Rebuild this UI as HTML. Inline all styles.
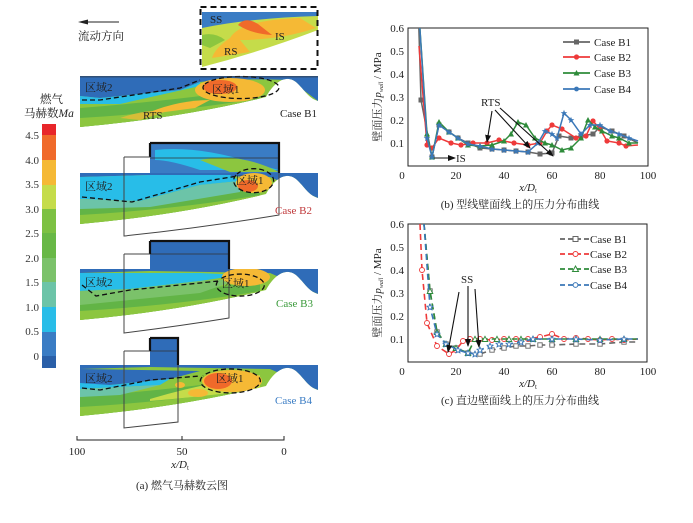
<!DOCTYPE html>
<html><head><meta charset="utf-8"><style>
body{margin:0;background:#fff;}
svg{display:block;font-family:"Liberation Serif","Noto Serif CJK SC",serif;}
</style></head><body>
<svg width="693" height="523" viewBox="0 0 693 523" xmlns="http://www.w3.org/2000/svg">
<defs>
<clipPath id="nz"><path d="M80,76 L318,76 L318,101 C308,98 305,90 296,82 C286,74 274,82 266,97 Q180,118 80,127 Z"/></clipPath>
<marker id="sq" markerWidth="6" markerHeight="6" refX="3" refY="3" markerUnits="userSpaceOnUse"><rect x="0.5" y="0.5" width="5" height="5" fill="#666"/></marker>
<marker id="ci" markerWidth="6" markerHeight="6" refX="3" refY="3" markerUnits="userSpaceOnUse"><circle cx="3" cy="3" r="2.6" fill="#ee3a3a"/></marker>
<marker id="tr" markerWidth="7" markerHeight="7" refX="3.5" refY="3.5" markerUnits="userSpaceOnUse"><path d="M3.5,0.5 L6.5,6 L0.5,6Z" fill="#2e8b3a"/></marker>
<marker id="st" markerWidth="7" markerHeight="7" refX="3.5" refY="3.5" markerUnits="userSpaceOnUse"><path d="M3.5,0.3 L4.4,2.6 L6.8,2.7 L4.9,4.2 L5.6,6.6 L3.5,5.2 L1.4,6.6 L2.1,4.2 L0.2,2.7 L2.6,2.6Z" fill="#3b78b8"/></marker>
<marker id="sqo" markerWidth="6" markerHeight="6" refX="3" refY="3" markerUnits="userSpaceOnUse"><rect x="0.8" y="0.8" width="4.4" height="4.4" fill="#fff" stroke="#666" stroke-width="0.9"/></marker>
<marker id="cio" markerWidth="7" markerHeight="7" refX="3.5" refY="3.5" markerUnits="userSpaceOnUse"><circle cx="3.5" cy="3.5" r="2.5" fill="#fff" stroke="#ee3a3a" stroke-width="0.9"/></marker>
<marker id="tro" markerWidth="7" markerHeight="7" refX="3.5" refY="3.5" markerUnits="userSpaceOnUse"><path d="M3.5,0.8 L6.3,6 L0.7,6Z" fill="#fff" stroke="#2e8b3a" stroke-width="0.9"/></marker>
<marker id="sto" markerWidth="7" markerHeight="7" refX="3.5" refY="3.5" markerUnits="userSpaceOnUse"><path d="M3.5,0.5 L4.4,2.6 L6.6,2.7 L4.9,4.2 L5.5,6.4 L3.5,5.2 L1.5,6.4 L2.1,4.2 L0.4,2.7 L2.6,2.6Z" fill="#fff" stroke="#3b78b8" stroke-width="0.9"/></marker>
<marker id="ah" markerWidth="8" markerHeight="8" refX="7" refY="4" orient="auto" markerUnits="userSpaceOnUse"><path d="M0,1 L8,4 L0,7Z" fill="#111"/></marker>
<g id="geo">
<g clip-path="url(#nz)">
<rect x="80" y="70" width="240" height="60" fill="#8cc63f"/>
<path d="M80,108 Q180,100 260,88 L260,130 L80,130Z" fill="#62b446"/>
<path d="M80,118 Q180,112 260,98 L260,130 L80,130Z" fill="#8cc63f"/>
</g>
</g>
</defs>

<!-- flow direction -->
<line x1="80" y1="22" x2="119" y2="22" stroke="#222" stroke-width="1"/>
<path d="M78,22 L88,19.5 L88,24.5Z" fill="#222"/>
<text x="78" y="40" font-size="11.5" fill="#222">流动方向</text>

<!-- colorbar -->
<text x="40" y="103" font-size="11.5" fill="#222">燃气</text>
<text x="24" y="117" font-size="11.5" fill="#222">马赫数<tspan font-style="italic">Ma</tspan></text>
<rect x="42" y="124" width="14" height="11" fill="#e8262a"/>
<rect x="42" y="135" width="14" height="25" fill="#f06a2a"/>
<rect x="42" y="160" width="14" height="25" fill="#f5b935"/>
<rect x="42" y="185" width="14" height="24" fill="#c5dc4a"/>
<rect x="42" y="209" width="14" height="24" fill="#7dc143"/>
<rect x="42" y="233" width="14" height="25" fill="#68b846"/>
<rect x="42" y="258" width="14" height="24" fill="#7bc26a"/>
<rect x="42" y="282" width="14" height="25" fill="#6cc4a8"/>
<rect x="42" y="307" width="14" height="25" fill="#28bde8"/>
<rect x="42" y="332" width="14" height="24" fill="#3a7cc4"/>
<rect x="42" y="356" width="14" height="12" fill="#2a5fa8"/>
<g font-size="11" fill="#333" text-anchor="end">
<text x="39" y="139">4.5</text><text x="39" y="164">4.0</text><text x="39" y="188">3.5</text><text x="39" y="213">3.0</text><text x="39" y="237">2.5</text><text x="39" y="262">2.0</text><text x="39" y="286">1.5</text><text x="39" y="311">1.0</text><text x="39" y="335">0.5</text><text x="39" y="360">0</text>
</g>

<!-- inset -->
<path d="M202,12 L318,12 L318,30 Q260,52 202,67Z" fill="#c5dc4a"/>
<path d="M202,12 L318,12 L318,16 Q250,18 202,28Z" fill="#3a7cc4"/>
<path d="M230,38 Q240,20 300,18 L316,28 Q280,40 240,40 L250,52 L212,58 Q215,48 230,38Z" fill="#f5b935"/>
<path d="M238,25 Q245,16 258,24 L272,35 Q252,34 238,25Z" fill="#f06a2a"/>
<path d="M202,35 Q215,32 225,40 L210,48 L202,45Z" fill="#8cc63f"/>
<rect x="200.5" y="7" width="117" height="62" fill="none" stroke="#111" stroke-width="2" stroke-dasharray="6,4"/>
<g font-size="11" fill="#222"><text x="210" y="23">SS</text><text x="275" y="40">IS</text><text x="224" y="55">RS</text></g>

<!-- B1 -->
<use href="#geo"/>
<g clip-path="url(#nz)">
<path d="M80,76 L318,76 L318,101 L290,80 Q230,78 200,82 L180,90 L100,98 L80,96Z" fill="#2f6cb8"/>
<path d="M80,96 L100,98 L180,90 L200,82 L200,86 L120,104 L80,104Z" fill="#28bde8"/>
<ellipse cx="230" cy="90" rx="35" ry="12" fill="#f5b935"/>
<ellipse cx="220" cy="87" rx="17" ry="7" fill="#f06a2a"/>
<path d="M150,112 Q180,100 210,100 L195,108 L165,112Z" fill="#f5b935"/>
<path d="M120,118 Q150,108 165,112 L140,120Z" fill="#f5b935" opacity=".7"/>
</g>
<path d="M82,100 L100,100 L180,88 L200,80 M204,85 A38,11 0 1 0 205,84" fill="none" stroke="#111" stroke-width="1.3" stroke-dasharray="5,3"/>
<rect x="80" y="76" width="238" height="1.5" fill="#333" opacity=".5"/>
<g font-size="11" fill="#222"><text x="85" y="91">区域2</text><text x="212" y="93">区域1</text><text x="143" y="119">RTS</text><text x="280" y="117">Case B1</text></g>

<!-- B2 -->
<g transform="translate(0,97)"><use href="#geo"/>
<g clip-path="url(#nz)">
<path d="M80,76 L318,76 L318,101 L270,80 L150,78 L80,80Z" fill="#2f6cb8"/>
<path d="M80,80 L150,78 L230,78 L240,84 L200,88 L140,104 L80,102Z" fill="#28bde8"/>
<path d="M80,102 L140,104 L200,88 L240,84 L240,95 L150,110 L80,112Z" fill="#6cc4a8"/>
<ellipse cx="254" cy="86" rx="18" ry="10" fill="#f5b935"/>
<ellipse cx="248" cy="89" rx="10" ry="6" fill="#f06a2a"/>
</g></g>
<path d="M150,143 L279,143 L279,173 L150,173Z" fill="#3a7cc4"/>
<path d="M155,150 Q200,145 260,165 L279,170 L200,170 Q170,160 155,160Z" fill="#28bde8"/>
<path d="M200,160 Q240,152 279,172 L230,172Z" fill="#8cc63f"/>
<line x1="150" y1="158" x2="279" y2="158" stroke="#333" stroke-width="0.8"/>
<path d="M150,143 L279,143 L279,173 M150,143 L150,157" fill="none" stroke="#111" stroke-width="2.2"/>
<path d="M124,157 L150,157 M124,157 L124,236 Q200,228 279,215 L279,173" fill="none" stroke="#444" stroke-width="1"/>
<path d="M82,197 L132,202 L200,182 L238,176 M236,175 A20,12 0 1 0 237,174" fill="none" stroke="#111" stroke-width="1.3" stroke-dasharray="5,3"/>
<g font-size="11" fill="#222"><text x="85" y="190">区域2</text><text x="236" y="184">区域1</text></g>
<text x="275" y="214" font-size="11" fill="#c0393b">Case B2</text>

<!-- B3 -->
<g transform="translate(0,193)"><use href="#geo"/>
<g clip-path="url(#nz)">
<path d="M80,76 L318,76 L318,101 L270,80 L150,78 L80,80Z" fill="#2f6cb8"/>
<path d="M80,80 L200,80 L240,82 L200,88 L130,96 L80,98Z" fill="#28bde8"/>
<path d="M80,98 L130,96 L200,88 L240,86 L200,100 L80,112Z" fill="#7bc26a"/>
<ellipse cx="246" cy="84" rx="24" ry="9" fill="#f5b935"/>
</g></g>
<path d="M150,241 L229,241 L229,269 L150,269Z" fill="#2f6cb8"/>
<line x1="150" y1="254" x2="229" y2="254" stroke="#333" stroke-width="0.8"/>
<path d="M150,241 L229,241 L229,269 M150,241 L150,254" fill="none" stroke="#111" stroke-width="2.2"/>
<path d="M124,254 L150,254 M124,254 L124,333 Q180,326 229,318 L229,269" fill="none" stroke="#444" stroke-width="1"/>
<path d="M82,285 L96,296 L130,290 L200,283 L218,281 M218,281 A24,11 0 1 0 219,280" fill="none" stroke="#111" stroke-width="1.3" stroke-dasharray="5,3"/>
<g font-size="11" fill="#222"><text x="85" y="286">区域2</text><text x="222" y="287">区域1</text></g>
<text x="276" y="307" font-size="11" fill="#3a9a3a">Case B3</text>

<!-- B4 -->
<g transform="translate(0,289)"><use href="#geo"/>
<g clip-path="url(#nz)">
<path d="M80,76 L318,76 L318,101 L270,80 L150,78 L80,80Z" fill="#2f6cb8"/>
<path d="M80,80 L200,82 L170,90 L110,96 L80,96Z" fill="#2f6cb8"/>
<path d="M80,94 L110,96 L170,90 L160,96 L80,100Z" fill="#28bde8"/>
<path d="M80,100 L160,96 L120,106 L80,108Z" fill="#6cc4a8"/>
<path d="M150,110 Q200,95 260,86 L260,100 Q200,108 150,112Z" fill="#c5dc4a"/>
<ellipse cx="232" cy="92" rx="30" ry="11" fill="#f5b935"/>
<ellipse cx="218" cy="92" rx="14" ry="8" fill="#f06a2a"/>
<ellipse cx="198" cy="104" rx="10" ry="4" fill="#f5b935"/>
<ellipse cx="180" cy="96" rx="5" ry="3" fill="#f5b935"/>
</g></g>
<path d="M150,338 L178,338 L178,365 L150,365Z" fill="#2f6cb8"/>
<line x1="150" y1="351" x2="178" y2="351" stroke="#333" stroke-width="0.8"/>
<path d="M150,338 L178,338 L178,365 M150,338 L150,351" fill="none" stroke="#111" stroke-width="2.2"/>
<path d="M124,351 L150,351 M124,351 L124,428 Q150,425 178,422 L178,365" fill="none" stroke="#444" stroke-width="1"/>
<path d="M82,388 L100,390 L150,380 L200,376 M202,377 A30,12 0 1 0 203,376" fill="none" stroke="#111" stroke-width="1.3" stroke-dasharray="5,3"/>
<g font-size="11" fill="#222"><text x="85" y="382">区域2</text><text x="216" y="382">区域1</text></g>
<text x="275" y="404" font-size="11" fill="#3a7cc4">Case B4</text>

<!-- bottom axis a -->
<path d="M77,436 L77,440 L284,440 L284,436 M182,436 L182,440" fill="none" stroke="#222" stroke-width="1"/>
<g font-size="11" fill="#222" text-anchor="middle"><text x="77" y="455">100</text><text x="182" y="455">50</text><text x="284" y="455">0</text>
<text x="180" y="468" font-style="italic">x/D<tspan font-size="7" dy="2" font-style="normal">t</tspan></text>
<text x="182" y="489" font-size="11">(a) 燃气马赫数云图</text></g>

<!-- plot b -->
<g font-size="11" fill="#222">
<rect x="408" y="28" width="240" height="138" fill="none" stroke="#222" stroke-width="1"/>
<g text-anchor="end"><text x="404" y="32">0.6</text><text x="404" y="55">0.5</text><text x="404" y="78">0.4</text><text x="404" y="101">0.3</text><text x="404" y="124">0.2</text><text x="404" y="147">0.1</text></g>
<g text-anchor="middle"><text x="402" y="179">0</text><text x="456" y="179">20</text><text x="504" y="179">40</text><text x="552" y="179">60</text><text x="600" y="179">80</text><text x="648" y="179">100</text>
<text x="528" y="191" font-style="italic">x/D<tspan font-size="7" dy="2" font-style="normal">t</tspan></text>
<text x="520" y="208">(b) 型线壁面线上的压力分布曲线</text></g>
<text transform="translate(381,97) rotate(-90)" text-anchor="middle" font-size="11">壁面压力<tspan font-style="italic">p</tspan><tspan font-size="6" dy="2" font-style="italic">wall</tspan><tspan dy="-2"> / MPa</tspan></text>
</g>
<svg x="408" y="28" width="240" height="138" viewBox="408 28 240 138" overflow="hidden">
<polyline fill="none" stroke="#666" stroke-width="1.5" marker-mid="url(#sq)" points="418,0 421,100 432,157 439,125 449,132 458,138 468,143 480,148 492,149 504,150 516,151 528,152 540,154 552,153 559,136 571,138 581,136 593,134 600,127 612,131 624,136 638,143"/>
<polyline fill="none" stroke="#ee3a3a" stroke-width="1.5" marker-mid="url(#ci)" points="419,46 427,145 432,148 439,138 451,143 461,145 473,143 487,143 499,140 514,143 528,145 540,143 547,131 552,125 562,129 576,138 586,136 593,121 600,129 607,141 619,143 626,146 638,145"/>
<polyline fill="none" stroke="#2e8b3a" stroke-width="1.5" marker-mid="url(#tr)" points="418,0 427,134 432,157 439,122 449,132 458,138 468,145 480,146 492,145 504,141 511,134 518,122 526,125 535,138 545,143 552,145 562,150 571,148 581,138 588,120 595,127 602,131 612,136 619,138 629,143 638,143"/>
<polyline fill="none" stroke="#3b78b8" stroke-width="1.5" marker-mid="url(#st)" points="418,0 427,138 432,157 439,125 449,132 458,138 468,144 480,146 492,149 504,150 516,151 528,152 538,143 545,131 552,134 557,138 564,113 571,120 581,134 590,125 600,125 610,131 619,134 629,138 638,141"/>
</svg>
<g stroke-width="1.8"><line x1="563" y1="42" x2="590" y2="42" stroke="#666" marker-mid="url(#sq)"/><rect x="574" y="39.5" width="5" height="5" fill="#666"/>
<line x1="563" y1="57" x2="590" y2="57" stroke="#ee3a3a"/><circle cx="576.5" cy="57" r="2.6" fill="#ee3a3a"/>
<line x1="563" y1="73" x2="590" y2="73" stroke="#2e8b3a"/><path d="M576.5,70 L579.5,75.5 L573.5,75.5Z" fill="#2e8b3a"/>
<line x1="563" y1="89" x2="590" y2="89" stroke="#3b78b8"/><circle cx="576.5" cy="89" r="2.4" fill="#3b78b8"/></g>
<g font-size="11" fill="#222"><text x="594" y="46">Case B1</text><text x="594" y="61">Case B2</text><text x="594" y="77">Case B3</text><text x="594" y="93">Case B4</text>
<text x="481" y="106">RTS</text><text x="456" y="162">IS</text></g>
<g stroke="#111" stroke-width="1.1" marker-end="url(#ah)"><line x1="492" y1="111" x2="487" y2="142"/><line x1="495" y1="110" x2="530" y2="148"/><line x1="500" y1="108" x2="553" y2="156"/><line x1="434" y1="158" x2="455" y2="158"/></g>

<!-- plot c -->
<g font-size="11" fill="#222">
<rect x="408" y="224" width="239" height="138" fill="none" stroke="#222" stroke-width="1"/>
<g text-anchor="end"><text x="404" y="228">0.6</text><text x="404" y="251">0.5</text><text x="404" y="274">0.4</text><text x="404" y="297">0.3</text><text x="404" y="320">0.2</text><text x="404" y="343">0.1</text></g>
<g text-anchor="middle"><text x="402" y="375">0</text><text x="456" y="375">20</text><text x="504" y="375">40</text><text x="552" y="375">60</text><text x="600" y="375">80</text><text x="648" y="375">100</text>
<text x="528" y="387" font-style="italic">x/D<tspan font-size="7" dy="2" font-style="normal">t</tspan></text>
<text x="520" y="404">(c) 直边壁面线上的压力分布曲线</text></g>
<text transform="translate(381,293) rotate(-90)" text-anchor="middle" font-size="11">壁面压力<tspan font-style="italic">p</tspan><tspan font-size="6" dy="2" font-style="italic">wall</tspan><tspan dy="-2"> / MPa</tspan></text>
</g>
<svg x="408" y="224" width="239" height="138" viewBox="408 224 239 138" overflow="hidden">
<g fill="none" stroke-width="1.6" stroke-dasharray="6,4">
<polyline stroke="#666" marker-mid="url(#sqo)" points="424,224 430,291 437,332 446,344 456,348 468,353 480,354 492,350 504,348 516,346 528,346 540,345 552,345 576,344 600,344 624,342 638,342"/>
<polyline stroke="#ee3a3a" marker-mid="url(#cio)" points="420,224 422,270 427,323 437,346 449,354 456,350 463,341 470,339 480,339 492,340 504,339 516,339 528,339 540,337 552,334 564,339 576,338 588,339 600,340 612,339 624,340 638,339"/>
<polyline stroke="#2e8b3a" marker-mid="url(#tro)" points="424,224 430,291 437,332 446,344 456,348 468,353 475,339 485,339 497,339 509,339 521,339 533,339 552,339 576,339 600,339 624,339 638,339"/>
<polyline stroke="#3b78b8" marker-mid="url(#sto)" points="424,224 430,307 437,334 446,344 458,350 468,353 475,354 480,350 490,346 499,344 509,344 521,342 533,339 552,339 576,339 600,340 624,339 638,339"/>
</g></svg>
<g stroke-width="1.8" stroke-dasharray="5,3"><line x1="560" y1="239" x2="590" y2="239" stroke="#666"/><line x1="560" y1="254" x2="590" y2="254" stroke="#ee3a3a"/><line x1="560" y1="269" x2="590" y2="269" stroke="#2e8b3a"/><line x1="560" y1="285" x2="590" y2="285" stroke="#3b78b8"/></g>
<rect x="573" y="236.5" width="5" height="5" fill="#fff" stroke="#666"/><circle cx="575.5" cy="254" r="2.5" fill="#fff" stroke="#ee3a3a"/><path d="M575.5,266 L578.5,271.5 L572.5,271.5Z" fill="#fff" stroke="#2e8b3a"/><circle cx="575.5" cy="285" r="2.4" fill="#fff" stroke="#3b78b8"/>
<g font-size="11" fill="#222"><text x="590" y="243">Case B1</text><text x="590" y="258">Case B2</text><text x="590" y="273">Case B3</text><text x="590" y="289">Case B4</text>
<text x="461" y="283">SS</text></g>
<g stroke="#111" stroke-width="1.1" marker-end="url(#ah)"><line x1="459" y1="292" x2="448" y2="352"/><line x1="468" y1="286" x2="468" y2="346"/><line x1="475" y1="289" x2="479" y2="347"/></g>
</svg>
</body></html>
